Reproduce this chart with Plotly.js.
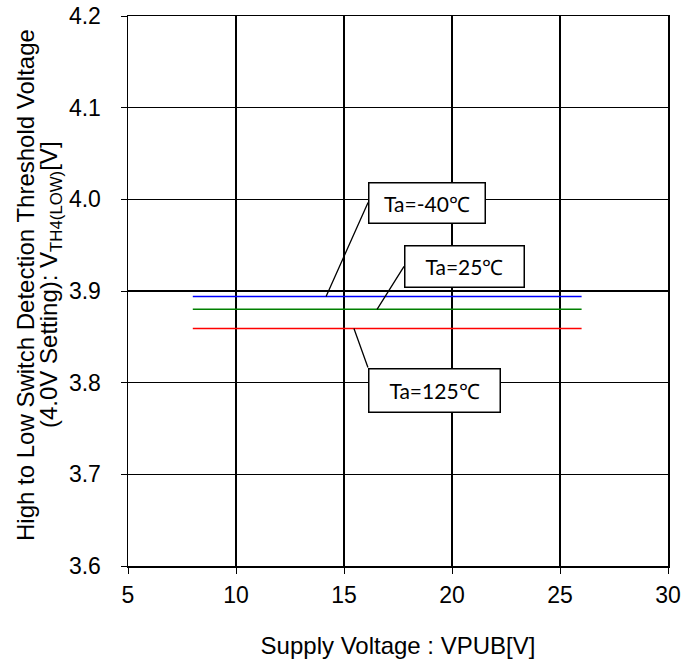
<!DOCTYPE html>
<html><head><meta charset="utf-8">
<script src="https://cdn.plot.ly/plotly-3.0.1.min.js"></script>
<style>html,body{margin:0;padding:0;background:#fff;}#chart{width:699px;height:666px;}</style>
</head><body><div id="chart"></div>
<script>
const supplyVoltage = [8, 10, 12, 14, 16, 18, 20, 22, 24, 26];
const vthMinus40 = [3.894, 3.894, 3.894, 3.894, 3.894, 3.894, 3.894, 3.894, 3.894, 3.894];
const vth25 = [3.880, 3.880, 3.880, 3.880, 3.880, 3.880, 3.880, 3.880, 3.880, 3.880];
const vth125 = [3.859, 3.859, 3.859, 3.859, 3.859, 3.859, 3.859, 3.859, 3.859, 3.859];
const seriesNames = ['Ta=-40℃', 'Ta=25℃', 'Ta=125℃'];
const xTicks = [5, 10, 15, 20, 25, 30];
const yTicks = [3.6, 3.7, 3.8, 3.9, 4.0, 4.1, 4.2];
const xTitle = 'Supply Voltage : VPUB[V]';
const yTitleLines = ['High to Low Switch Detection Threshold Voltage',
                     '(4.0V Setting): V<sub>TH4(LOW)</sub>[V]'];

const colors = ['#0000ff', '#008000', '#ff0000'];
const ys = [vthMinus40, vth25, vth125];
const traces = ys.map((y, i) => ({
  x: supplyVoltage, y: y, type: 'scatter', mode: 'lines', name: seriesNames[i],
  line: {color: colors[i], width: 1.5}, showlegend: false
}));

const annFont = {family: 'Lato, "Open Sans", sans-serif', size: 21, color: '#000'};
function ann(text, x, y, ax, ay, w, h, yanchor) {
  return {x: x, y: y, xref: 'x', yref: 'y', text: text, showarrow: true, arrowhead: 0,
    arrowwidth: 1.3, arrowcolor: '#000', ax: ax, ay: ay, xanchor: 'left', yanchor: yanchor,
    width: w, height: h, bordercolor: '#000', borderwidth: 1.5, borderpad: 1,
    bgcolor: '#fff', font: annFont, align: 'center', valign: 'middle'};
}
const titleFont = {family: '"Liberation Sans", Arial, sans-serif', size: 24, color: '#000'};
function yTitle(text, xshift) {
  return {text: text, xref: 'paper', yref: 'paper', x: 0, y: 0.5, xanchor: 'center', yanchor: 'middle',
    xshift: xshift, yshift: 6, textangle: -90, showarrow: false, font: titleFont};
}

const layout = {
  width: 699, height: 666,
  margin: {l: 128, r: 31, t: 16, b: 100},
  paper_bgcolor: '#fff', plot_bgcolor: '#fff',
  font: {family: '"Liberation Sans", Arial, sans-serif', color: '#000', size: 23},
  xaxis: {
    range: [5, 30], tickvals: xTicks, ticktext: xTicks.map(String),
    showgrid: true, gridcolor: '#000', gridwidth: 1.3,
    showline: true, linecolor: '#000', linewidth: 1.5, mirror: true,
    ticks: 'outside', ticklen: 6, tickcolor: '#000', zeroline: false,
    tickfont: {size: 23}, ticklabelstandoff: 2,
    title: {text: xTitle, font: {size: 24}, standoff: 30}
  },
  yaxis: {
    range: [3.6, 4.2], tickvals: yTicks, ticktext: yTicks.map(v => v.toFixed(1)),
    showgrid: true, gridcolor: '#000', gridwidth: 1.3,
    showline: true, linecolor: '#000', linewidth: 1.5, mirror: true,
    ticks: 'outside', ticklen: 6, tickcolor: '#000', zeroline: false,
    tickfont: {size: 23}, ticklabelstandoff: 15
  },
  annotations: [
    ann(seriesNames[0], 14.17, vthMinus40[0], 42, -94, 113, 37, 'middle'),
    ann(seriesNames[1], 16.53, vth25[0], 27, -43, 116, 38, 'middle'),
    ann(seriesNames[2], 15.46, vth125[0], 14, 39, 128, 40, 'top'),
    yTitle(yTitleLines[0], -103),
    yTitle(yTitleLines[1], -78)
  ]
};
Plotly.newPlot('chart', traces, layout, {displayModeBar: false, staticPlot: true});
</script></body></html>
